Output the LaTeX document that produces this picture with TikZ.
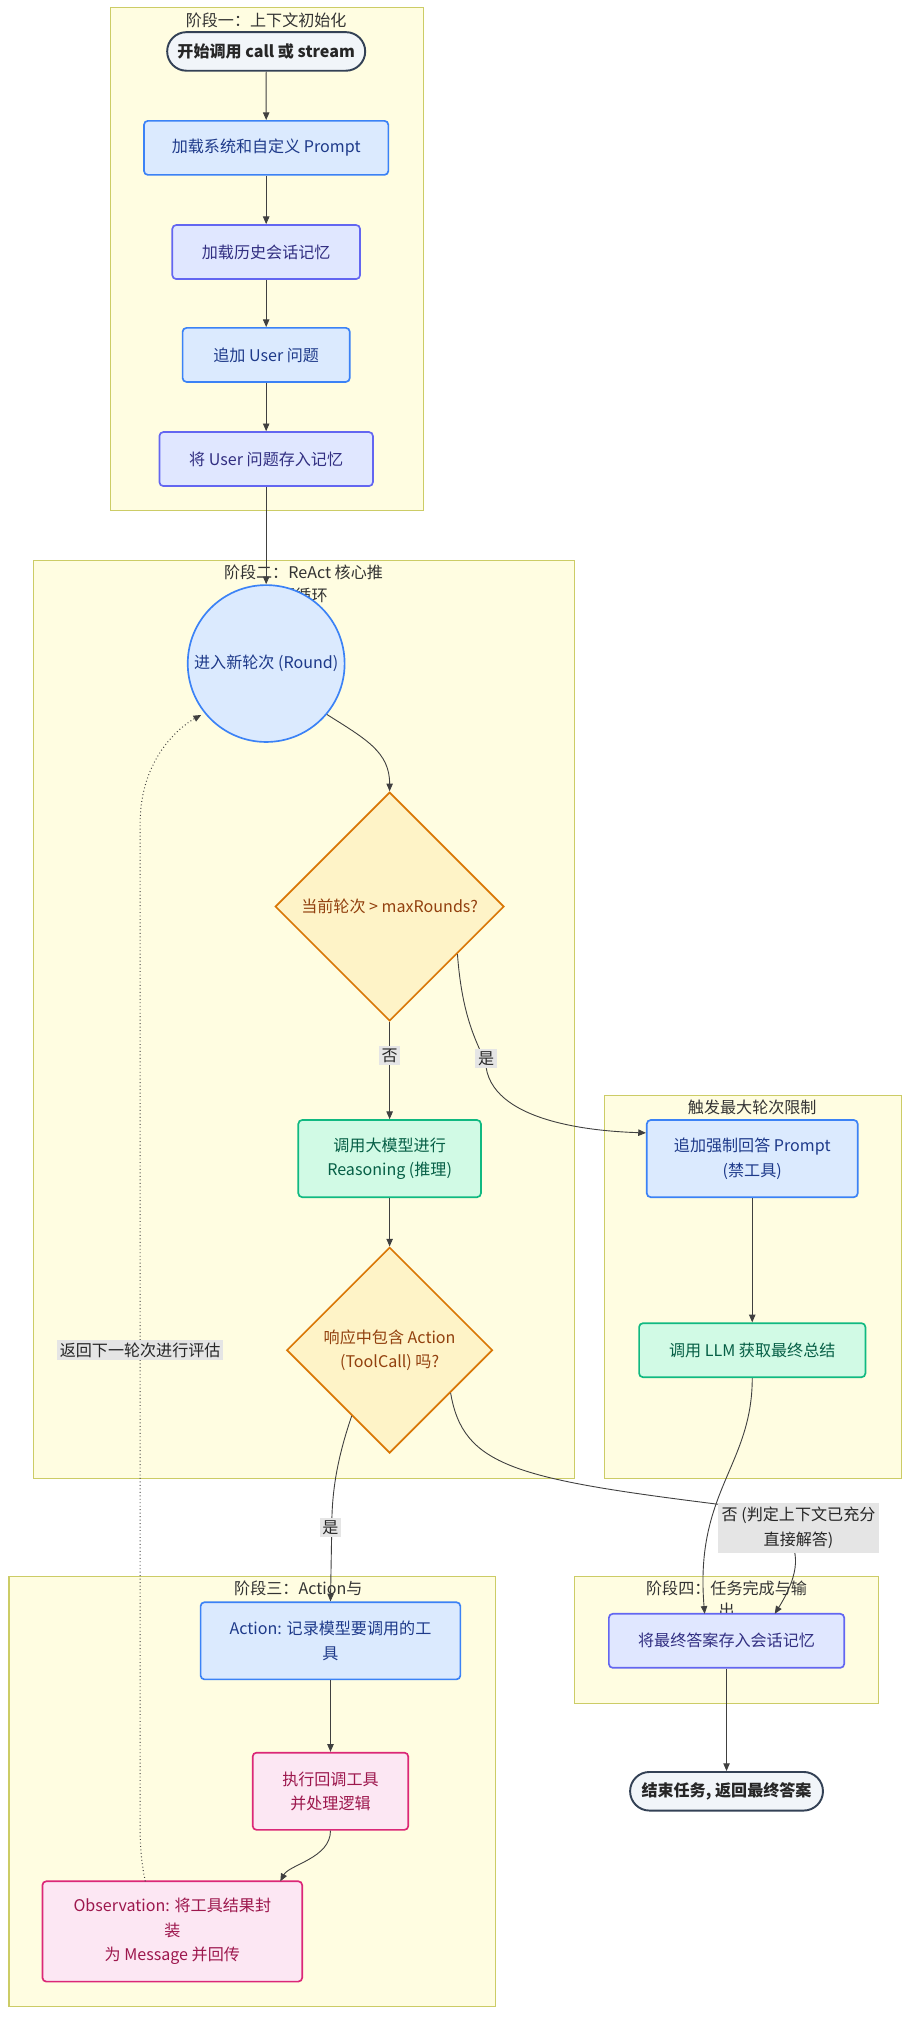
\documentclass[tikz,border=0pt]{standalone}
\usepackage{fontspec}
\setmainfont{Noto Sans CJK SC}
\usetikzlibrary{shapes.geometric,shapes.misc,arrows.meta}
\definecolor{stagefill}{HTML}{FFFDE1}
\definecolor{stageline}{HTML}{CCCC66}
\definecolor{bfill}{HTML}{DBEAFE}\definecolor{bline}{HTML}{3B82F6}\definecolor{btext}{HTML}{1E3A8A}
\definecolor{pfill}{HTML}{E0E7FF}\definecolor{pline}{HTML}{6366F1}\definecolor{ptext}{HTML}{312E81}
\definecolor{gfill}{HTML}{D1FAE5}\definecolor{gline}{HTML}{10B981}\definecolor{gtext}{HTML}{065F46}
\definecolor{ofill}{HTML}{FEF3C7}\definecolor{oline}{HTML}{D97706}\definecolor{otext}{HTML}{92400E}
\definecolor{kfill}{HTML}{FCE7F3}\definecolor{kline}{HTML}{DB2777}\definecolor{ktext}{HTML}{9D174D}
\definecolor{sfill}{HTML}{F1F5F9}\definecolor{sline}{HTML}{334155}
\begin{document}
\begin{tikzpicture}[x=1pt,y=-1pt,
 every node/.style={font=\fontsize{12.5}{19}\selectfont},
 stage/.style={draw=stageline,fill=stagefill,line width=0.8pt},
 stitle/.style={font=\fontsize{12.5}{18}\selectfont,text=black!80},
 box/.style={rectangle,rounded corners=3pt,line width=1.3pt,align=center,inner sep=0pt},
 blue/.style={box,fill=bfill,draw=bline,text=btext},
 purp/.style={box,fill=pfill,draw=pline,text=ptext},
 green/.style={box,fill=gfill,draw=gline,text=gtext},
 pink/.style={box,fill=kfill,draw=kline,text=ktext},
 term/.style={rounded rectangle,fill=sfill,draw=sline,line width=1.5pt,font=\bfseries\fontsize{12.5}{15}\selectfont,text=black!85,inner sep=0pt},
 dia/.style={diamond,fill=ofill,draw=oline,line width=1.3pt,text=otext,align=center,inner sep=0pt},
 arr/.style={draw=black!75,line width=0.7pt,-{Triangle[length=6pt,width=5pt]}},
 lbl/.style={fill=black!10,inner sep=2pt,text=black!85,align=center,font=\fontsize{12.5}{18}\selectfont}]
\useasboundingbox (0,0) rectangle (710,1574);
% stages
\draw[stage] (86,6) rectangle (329,397);
\node[stitle] at (207,16) {阶段一：上下文初始化};
\draw[stage] (26,436) rectangle (447,1150);
\node[stitle] at (236,445) {阶段二：ReAct 核心推};
\node[stitle] at (236,463) {理循环};
\draw[stage] (470,852) rectangle (701,1150);
\node[stitle] at (585,861) {触发最大轮次限制};
\draw[stage] (7,1226) rectangle (385,1560);
\node[stitle] at (232,1235) {阶段三：Action与};
\node[stitle] at (196,1254) {Observation};
\draw[stage] (447,1226) rectangle (683,1325);
\node[stitle] at (565,1235) {阶段四：任务完成与输};
\node[stitle] at (565,1252) {出};
% nodes
\node[term,minimum width=154pt,minimum height=30pt] (start) at (207,40) {开始调用 call 或 stream};
\node[blue,minimum width=190pt,minimum height=42pt] (p1) at (207,115) {加载系统和自定义 Prompt};
\node[purp,minimum width=146pt,minimum height=42pt] (p2) at (207,196) {加载历史会话记忆};
\node[blue,minimum width=130pt,minimum height=42pt] (p3) at (207,276) {追加 User 问题};
\node[purp,minimum width=166pt,minimum height=42pt] (p4) at (207,357) {将 User 问题存入记忆};
\node[circle,fill=bfill,draw=bline,line width=1.3pt,text=btext,minimum size=122pt,inner sep=0pt] (round) at (207,516) {进入新轮次 (Round)};
\node[dia,minimum width=178pt,minimum height=178pt] (d1) at (303,705) {当前轮次 > maxRounds?};
\node[green,minimum width=142pt,minimum height=60pt] (reason) at (303,901) {调用大模型进行\\Reasoning (推理)};
\node[dia,minimum width=160pt,minimum height=160pt] (d2) at (303,1050) {响应中包含 Action\\(ToolCall) 吗?};
\node[blue,minimum width=164pt,minimum height=60pt] (force) at (585,901) {追加强制回答 Prompt\\(禁工具)};
\node[green,minimum width=176pt,minimum height=42pt] (llm) at (585,1050) {调用 LLM 获取最终总结};
\node[blue,minimum width=202pt,minimum height=60pt] (action) at (257,1276) {Action: 记录模型要调用的工\\具};
\node[pink,minimum width=121pt,minimum height=60pt] (exec) at (257,1393) {执行回调工具\\并处理逻辑};
\node[pink,minimum width=202pt,minimum height=78pt] (obs) at (134,1502) {Observation: 将工具结果封\\装\\为 Message 并回传};
\node[purp,minimum width=183pt,minimum height=42pt] (save) at (565,1276) {将最终答案存入会话记忆};
\node[term,minimum width=150pt,minimum height=30pt] (end) at (565,1393) {结束任务, 返回最终答案};
% edges
\draw[arr] (start) -- (p1);
\draw[arr] (p1) -- (p2);
\draw[arr] (p2) -- (p3);
\draw[arr] (p3) -- (p4);
\draw[arr] (p4) -- (round);
\draw[arr] (round.-40) .. controls (285,575) and (303,585) .. (d1.north);
\draw[arr] (d1.south) -- node[lbl,pos=0.35]{否} (reason.north);
\draw[arr] (d1.-35) .. controls (360,800) and (375,815) .. (378,830) .. controls (385,875) and (470,880) .. (force.north west |- 0,881);
\draw[arr] (reason) -- (d2.north);
\draw[arr] (force) -- (llm);
\draw[arr] (d2.-120) .. controls (262,1135) and (258,1160) .. (258,1188) -- (action.north);
\node[lbl] at (257,1188) {是};
\node[lbl] at (378,823) {是};
\draw[arr] (d2.-35) .. controls (360,1140) and (400,1150) .. (560,1170) .. controls (600,1180) and (640,1195) .. (save.30 |- 0,1255);
\draw[arr] (llm.south) .. controls (585,1140) and (540,1160) .. (548,1255);
\node[lbl,inner sep=3pt,font=\fontsize{12.5}{20}\selectfont] at (621,1188) {否 (判定上下文已充分\\直接解答)};
\draw[arr] (action) -- (exec);
\draw[arr] (exec.south) .. controls (257,1445) and (225,1450) .. (218,1463);
\draw[arr,dotted,line width=0.8pt] (113,1463) .. controls (108,1440) and (109,1420) .. (109,1400) -- (109,640) .. controls (109,590) and (140,565) .. (round.-145 |- 0,556);
\node[lbl] at (109,1050) {返回下一轮次进行评估};
\draw[arr] (save) -- (end);
\end{tikzpicture}
\end{document}
